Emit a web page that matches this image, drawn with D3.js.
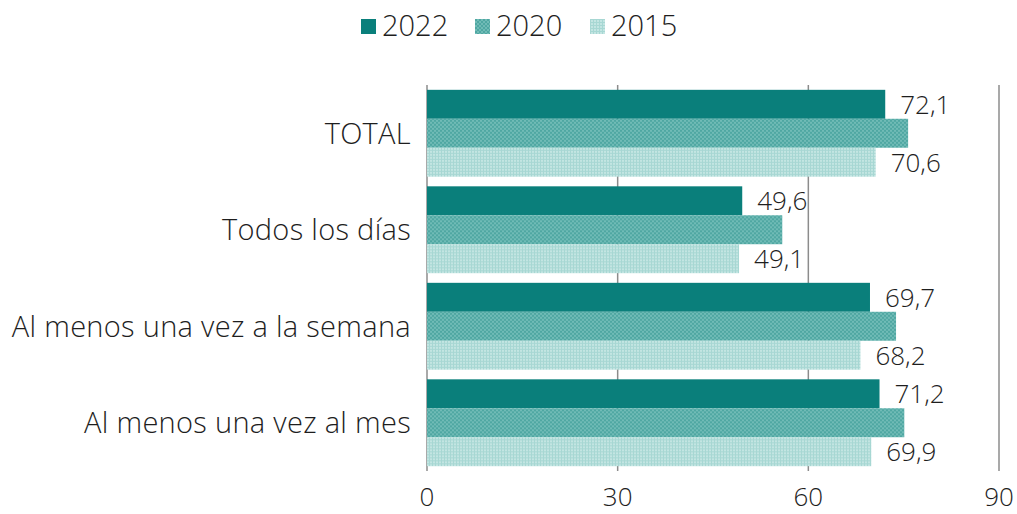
<!DOCTYPE html>
<html>
<head>
<meta charset="utf-8">
<script src="https://cdn.jsdelivr.net/npm/d3@7"></script>
<style>
  body { margin: 0; background: #fff; }
  svg { display: block; font-family: "Open Sans", Lato, sans-serif; font-weight: 300; }
</style>
</head>
<body>
<svg id="chart" width="1017" height="514"></svg>
<script>
// data
var categories = ["TOTAL", "Todos los días", "Al menos una vez a la semana", "Al menos una vez al mes"];
var series = ["2022", "2020", "2015"];
var v2022 = [72.1, 49.6, 69.7, 71.2];
var v2020 = [75.7, 55.9, 73.8, 75.1];
var v2015 = [70.6, 49.1, 68.2, 69.9];
var ticks = [0, 30, 60, 90];
var labelled = ["2022", "2015"]; // 2020 carries no value labels

var values = { "2022": v2022, "2020": v2020, "2015": v2015 };
var fills = { "2022": "#0a7f7b", "2020": "url(#p2020)", "2015": "url(#p2015)" };

var svg = d3.select("#chart");
var textCol = "#1e1e1e";

// patterns
var defs = svg.append("defs");
var p1 = defs.append("pattern").attr("id", "p2020")
    .attr("width", 4).attr("height", 4).attr("patternUnits", "userSpaceOnUse");
p1.append("rect").attr("width", 4).attr("height", 4).attr("fill", "#70bbb6");
p1.append("rect").attr("x", 0).attr("y", 0).attr("width", 2).attr("height", 2).attr("fill", "#4fa7a2");
p1.append("rect").attr("x", 2).attr("y", 2).attr("width", 2).attr("height", 2).attr("fill", "#4fa7a2");

var p2 = defs.append("pattern").attr("id", "p2015")
    .attr("width", 3).attr("height", 3).attr("patternUnits", "userSpaceOnUse");
p2.append("rect").attr("width", 3).attr("height", 3).attr("fill", "#c3e5e2");
p2.append("rect").attr("width", 3).attr("height", 1).attr("fill", "#a7d7d3");
p2.append("rect").attr("width", 1).attr("height", 3).attr("fill", "#a7d7d3");

var x = d3.scaleLinear().domain([0, 90]).range([427, 999]);
var y = d3.scaleBand().domain(categories).range([85, 471]).paddingInner(0.1).paddingOuter(0.05);
var ys = d3.scaleBand().domain(series).range([0, y.bandwidth()]);

// gridlines
svg.append("g").selectAll("line")
    .data(ticks)
    .enter()
    .append("line")
    .attr("x1", d => x(d)).attr("x2", d => x(d))
    .attr("y1", 85).attr("y2", 471)
    .attr("stroke", "#8c8c8c")
    .attr("stroke-width", 1.5);

// bars
var groups = svg.append("g").selectAll("g")
    .data(categories)
    .enter()
    .append("g")
    .attr("transform", d => "translate(0," + y(d) + ")");

groups.selectAll("rect")
    .data((c, i) => series.map(s => ({ s: s, v: values[s][i] })))
    .enter()
    .append("rect")
    .attr("x", x(0))
    .attr("y", d => ys(d.s))
    .attr("width", d => x(d.v) - x(0))
    .attr("height", ys.bandwidth())
    .attr("fill", d => fills[d.s]);

// value labels
groups.selectAll("text.val")
    .data((c, i) => labelled.map(s => ({ s: s, v: values[s][i] })))
    .enter()
    .append("text")
    .attr("class", "val")
    .attr("x", d => x(d.v) + 15)
    .attr("y", d => ys(d.s) + ys.bandwidth() / 2)
    .attr("dy", "0.36em")
    .attr("font-size", 26)
    .attr("fill", textCol)
    .text(d => d3.format(".1f")(d.v).replace(".", ","));

// category labels
svg.append("g").selectAll("text")
    .data(categories)
    .enter()
    .append("text")
    .attr("x", 411)
    .attr("y", d => y(d) + y.bandwidth() / 2)
    .attr("dy", "0.36em")
    .attr("text-anchor", "end")
    .attr("font-size", 29)
    .attr("letter-spacing", 0.3)
    .attr("fill", textCol)
    .text(d => d);

// x tick labels
svg.append("g").selectAll("text")
    .data(ticks)
    .enter()
    .append("text")
    .attr("x", d => x(d))
    .attr("y", 497)
    .attr("dy", "0.36em")
    .attr("text-anchor", "middle")
    .attr("font-size", 26)
    .attr("fill", textCol)
    .text(d => d);

// legend
var legX = [361, 475, 590];
var leg = svg.append("g").selectAll("g")
    .data(series)
    .enter()
    .append("g")
    .attr("transform", (d, i) => "translate(" + legX[i] + ",19)");
leg.append("rect")
    .attr("width", 15).attr("height", 15)
    .attr("fill", d => fills[d]);
leg.append("text")
    .attr("x", 21)
    .attr("y", 7)
    .attr("dy", "0.36em")
    .attr("font-size", 29)
    .attr("fill", textCol)
    .text(d => d);
</script>
</body>
</html>
